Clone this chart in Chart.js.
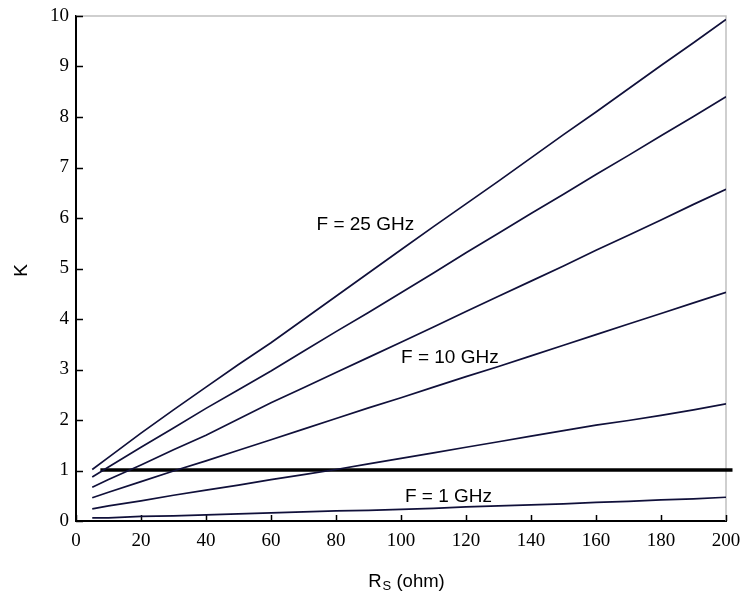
<!DOCTYPE html>
<html>
<head>
<meta charset="utf-8">
<script src="https://cdn.jsdelivr.net/npm/chart.js@4.4.1/dist/chart.umd.min.js"></script>
<style>
  html, body { margin: 0; padding: 0; background: #fff; }
  #wrap { width: 746px; height: 594px; }
</style>
</head>
<body>
<div id="wrap"><canvas id="kChart" width="746" height="594"></canvas></div>
<script>
// R_S (ohm) sample points
const rs = [5, 10, 20, 30, 40, 50, 60, 70, 80, 90, 100, 110, 120, 130, 140, 150, 160, 170, 180, 190, 200];

// K, top curve to bottom curve
const k25 = [1.02, 1.26, 1.74, 2.20, 2.65, 3.10, 3.53, 3.99, 4.45, 4.91, 5.37, 5.83, 6.28, 6.73, 7.19, 7.65, 8.10, 8.56, 9.02, 9.47, 9.93];
const k20 = [0.87, 1.07, 1.46, 1.84, 2.23, 2.60, 2.97, 3.36, 3.75, 4.13, 4.52, 4.91, 5.31, 5.70, 6.09, 6.47, 6.86, 7.24, 7.63, 8.01, 8.40];
const k15 = [0.67, 0.82, 1.11, 1.41, 1.70, 2.02, 2.34, 2.64, 2.94, 3.24, 3.54, 3.84, 4.15, 4.45, 4.75, 5.05, 5.36, 5.66, 5.96, 6.27, 6.57];
const k10 = [0.46, 0.57, 0.78, 0.99, 1.19, 1.40, 1.61, 1.82, 2.03, 2.24, 2.44, 2.65, 2.86, 3.06, 3.27, 3.48, 3.69, 3.90, 4.11, 4.32, 4.53];
const k5  = [0.24, 0.30, 0.40, 0.51, 0.61, 0.71, 0.82, 0.92, 1.02, 1.13, 1.24, 1.35, 1.46, 1.57, 1.68, 1.79, 1.90, 1.99, 2.09, 2.20, 2.32];
const k1  = [0.06, 0.06, 0.09, 0.10, 0.12, 0.14, 0.16, 0.18, 0.20, 0.21, 0.23, 0.25, 0.28, 0.30, 0.32, 0.34, 0.37, 0.39, 0.42, 0.44, 0.47];

// the K = 1 limit line
const limitX = [7.5, 202];
const limitK = [1.01, 1.01];

const xTicks = [0, 20, 40, 60, 80, 100, 120, 140, 160, 180, 200];
const yTicks = [0, 1, 2, 3, 4, 5, 6, 7, 8, 9, 10];

// curve labels, placed in data units (left edge, baseline)
const notes = [
    { text: 'F = 25 GHz', x: 74, y: 5.77 },
    { text: 'F = 10 GHz', x: 100, y: 3.13 },
    { text: 'F = 1 GHz', x: 101.2, y: 0.37 }
];

const curveColor = '#10103a';
const sans = '"Liberation Sans", Arial, sans-serif';

function pts(xs, ys) { return xs.map((v, i) => ({ x: v, y: ys[i] })); }

function curve(ys) {
    return { data: pts(rs, ys), borderColor: curveColor, borderWidth: 1.7, pointRadius: 0, tension: 0 };
}

const frame = {
    id: 'frame',
    beforeDatasetsDraw(chart) {
        const { ctx, chartArea: a, scales: { x, y } } = chart;
        ctx.save();
        ctx.strokeStyle = '#c0c0c0';
        ctx.lineWidth = 1.5;
        ctx.beginPath();
        ctx.moveTo(a.left, a.top);
        ctx.lineTo(a.right, a.top);
        ctx.lineTo(a.right, a.bottom);
        ctx.stroke();

        // ticks point into the plot
        ctx.strokeStyle = '#000';
        ctx.lineWidth = 1.5;
        ctx.beginPath();
        xTicks.forEach(v => {
            const px = Math.round(x.getPixelForValue(v)) + 0.5;
            ctx.moveTo(px, a.bottom);
            ctx.lineTo(px, a.bottom - 6);
        });
        yTicks.forEach(v => {
            const py = Math.round(y.getPixelForValue(v)) + 0.5;
            ctx.moveTo(a.left, py);
            ctx.lineTo(a.left + 7, py);
        });
        ctx.stroke();
        ctx.restore();
    },
    afterDraw(chart) {
        const { ctx, chartArea: a, scales: { x, y } } = chart;
        ctx.save();
        ctx.fillStyle = '#000';
        ctx.textBaseline = 'alphabetic';
        ctx.textAlign = 'left';

        // curve labels
        ctx.font = '19px ' + sans;
        notes.forEach(n => ctx.fillText(n.text, x.getPixelForValue(n.x), y.getPixelForValue(n.y)));

        // x title with subscript
        const big = '18.5px ' + sans, small = '13px ' + sans;
        ctx.font = big;
        const wR = ctx.measureText('R').width;
        const wO = ctx.measureText(' (ohm)').width;
        ctx.font = small;
        const wS = ctx.measureText('S').width;
        let sx = (a.left + a.right) / 2 + 5 - (wR + wS + wO) / 2;
        ctx.font = big;
        ctx.fillText('R', sx, 587);
        ctx.font = small;
        ctx.fillText('S', sx + wR + 1, 590);
        ctx.font = big;
        ctx.fillText(' (ohm)', sx + wR + wS + 1, 587);

        // y title
        ctx.translate(26.5, (a.top + a.bottom) / 2 + 2);
        ctx.rotate(-Math.PI / 2);
        ctx.textAlign = 'center';
        ctx.font = '19px ' + sans;
        ctx.fillText('K', 0, 0);
        ctx.restore();
    }
};

new Chart(document.getElementById('kChart'), {
    type: 'line',
    data: {
        datasets: [
            curve(k25), curve(k20), curve(k15), curve(k10), curve(k5), curve(k1),
            { data: pts(limitX, limitK), borderColor: '#000', borderWidth: 3.6, pointRadius: 0, clip: 12 }
        ]
    },
    options: {
        responsive: false,
        animation: false,
        layout: { padding: { top: 16, right: 20, left: 0, bottom: 0 } },
        plugins: { legend: { display: false }, tooltip: { enabled: false } },
        scales: {
            x: {
                type: 'linear', min: 0, max: 200,
                afterBuildTicks: s => { s.ticks = xTicks.map(v => ({ value: v })); },
                afterFit: s => { s.height = 73; s.paddingLeft = 0; s.paddingRight = 0; },
                grid: { display: false, drawTicks: false },
                border: { color: '#000', width: 2 },
                ticks: { color: '#000', padding: 9, maxRotation: 0, font: { family: '"Liberation Serif", "Times New Roman", serif', size: 19 } }
            },
            y: {
                min: 0, max: 10,
                afterBuildTicks: s => { s.ticks = yTicks.map(v => ({ value: v })); },
                afterFit: s => { s.width = 76; s.paddingTop = 0; s.paddingBottom = 0; },
                grid: { display: false, drawTicks: false },
                border: { color: '#000', width: 2 },
                ticks: { color: '#000', padding: 7, font: { family: '"Liberation Serif", "Times New Roman", serif', size: 19 } }
            }
        }
    },
    plugins: [frame]
});
</script>
</body>
</html>
